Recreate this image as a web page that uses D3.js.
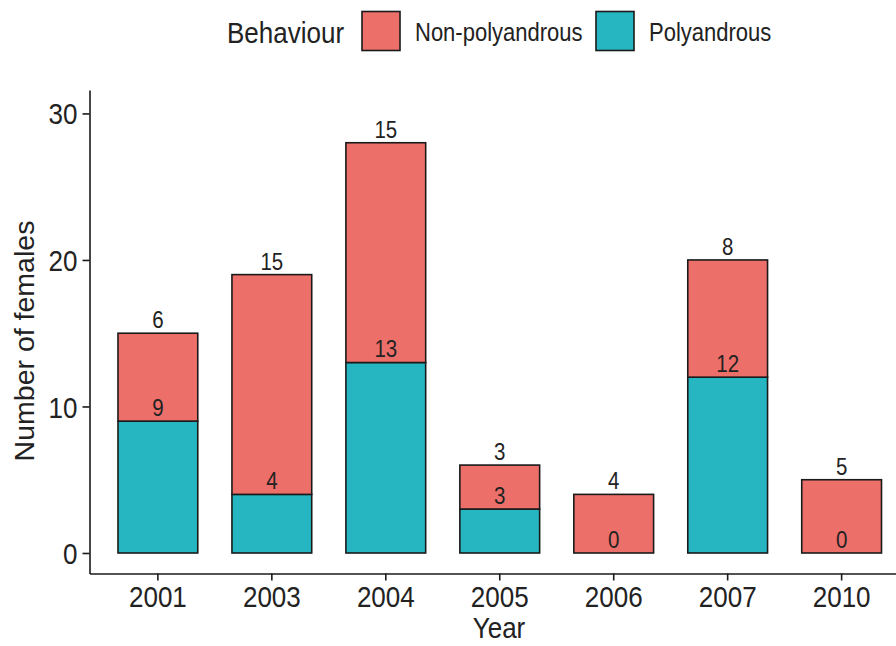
<!DOCTYPE html>
<html>
<head>
<meta charset="utf-8">
<script src="https://cdn.jsdelivr.net/npm/d3@7"></script>
<style>
  body { margin: 0; background: #fff; }
  text { font-family: "Liberation Sans", Arial, sans-serif; fill: #222; }
  /* the original picture is a little stretched vertically */
  text.tall { transform-box: fill-box; transform-origin: center; transform: scaleY(1.13); }
</style>
</head>
<body>
<div id="chart"></div>
<script>
// data
var years = ["2001", "2003", "2004", "2005", "2006", "2007", "2010"];
var polyandrous = [9, 4, 13, 3, 0, 12, 0];
var nonPolyandrous = [6, 15, 15, 3, 4, 8, 5];
var groups = ["Non-polyandrous", "Polyandrous"];
var yTicks = [0, 10, 20, 30];

var width = 896, height = 646;
var colors = {"Non-polyandrous": "#ED6F6A", "Polyandrous": "#26B6C1"};

var svg = d3.select("#chart")
  .append("svg")
    .attr("width", width)
    .attr("height", height);

// panel runs past the right edge of the picture, like the original
var x = d3.scaleBand()
  .domain(years)
  .range([89.5, 910])
  .paddingInner(0.3)
  .paddingOuter(0.25);

var y = d3.scaleLinear()
  .domain([-1.4, 31.6])
  .range([573.5, 90]);

// one row per year, stacked polyandrous then non-polyandrous
var rows = years.map(function(yr, i) {
  return {year: yr, "Polyandrous": polyandrous[i], "Non-polyandrous": nonPolyandrous[i]};
});
var stacked = d3.stack().keys(["Polyandrous", "Non-polyandrous"])(rows);

// bars
svg.append("g")
  .selectAll("g")
  .data(stacked)
  .enter().append("g")
    .attr("fill", function(d) { return colors[d.key]; })
  .selectAll("rect")
  .data(function(d) { return d.filter(function(s) { return s[1] > s[0]; }); })
  .enter().append("rect")
    .attr("x", function(d) { return x(d.data.year); })
    .attr("width", x.bandwidth())
    .attr("y", function(d) { return y(d[1]); })
    .attr("height", function(d) { return y(d[0]) - y(d[1]); })
    .attr("stroke", "#1a1a1a")
    .attr("stroke-width", 1.6);

// count labels: non-polyandrous on top of the bar, polyandrous above its segment
var labels = svg.append("g")
  .attr("font-size", 20.5)
  .attr("text-anchor", "middle");

labels.selectAll(".lab-top")
  .data(rows)
  .enter().append("text")
    .attr("class", "lab-top tall")
    .attr("x", function(d) { return x(d.year) + x.bandwidth() / 2; })
    .attr("y", function(d) { return y(d["Polyandrous"] + d["Non-polyandrous"]) - 6; })
    .text(function(d) { return d["Non-polyandrous"]; });

labels.selectAll(".lab-poly")
  .data(rows)
  .enter().append("text")
    .attr("class", "lab-poly tall")
    .attr("x", function(d) { return x(d.year) + x.bandwidth() / 2; })
    .attr("y", function(d) { return y(d["Polyandrous"]) - 6; })
    .text(function(d) { return d["Polyandrous"]; });

// axes
var xAxis = svg.append("g")
  .attr("transform", "translate(0," + y(-1.4) + ")")
  .call(d3.axisBottom(x).tickSizeInner(7).tickSizeOuter(0).tickPadding(7));

var yAxis = svg.append("g")
  .attr("transform", "translate(" + x.range()[0] + ",0)")
  .call(d3.axisLeft(y).tickValues(yTicks).tickSizeInner(7).tickSizeOuter(0).tickPadding(5));

[xAxis, yAxis].forEach(function(ax) {
  ax.select(".domain").attr("stroke", "#1a1a1a").attr("stroke-width", 1.6);
  ax.selectAll(".tick line").attr("stroke", "#1a1a1a").attr("stroke-width", 1.6);
  ax.selectAll(".tick text")
    .attr("class", "tall")
    .attr("font-size", 26)
    .attr("font-family", "Liberation Sans, Arial, sans-serif")
    .attr("fill", "#222");
});
yAxis.selectAll(".tick text").attr("dy", "0.36em");

// axis titles
svg.append("text")
  .attr("class", "tall")
  .attr("x", 499)
  .attr("y", 637)
  .attr("text-anchor", "middle")
  .attr("font-size", 26)
  .text("Year");

svg.append("text")
  .attr("transform", "translate(34,341) rotate(-90)")
  .attr("text-anchor", "middle")
  .attr("font-size", 28.5)
  .text("Number of females");

// legend
var legend = svg.append("g");

legend.append("text")
  .attr("class", "tall")
  .attr("x", 227)
  .attr("y", 42)
  .attr("font-size", 26)
  .text("Behaviour");

var keyX = [362, 596];
groups.forEach(function(g, i) {
  legend.append("rect")
    .attr("x", keyX[i])
    .attr("y", 11.5)
    .attr("width", 38)
    .attr("height", 39)
    .attr("fill", colors[g])
    .attr("stroke", "#1a1a1a")
    .attr("stroke-width", 1.6);
  legend.append("text")
    .attr("class", "tall")
    .attr("x", keyX[i] + 53)
    .attr("y", 40)
    .attr("font-size", 22)
    .text(g);
});
</script>
</body>
</html>
